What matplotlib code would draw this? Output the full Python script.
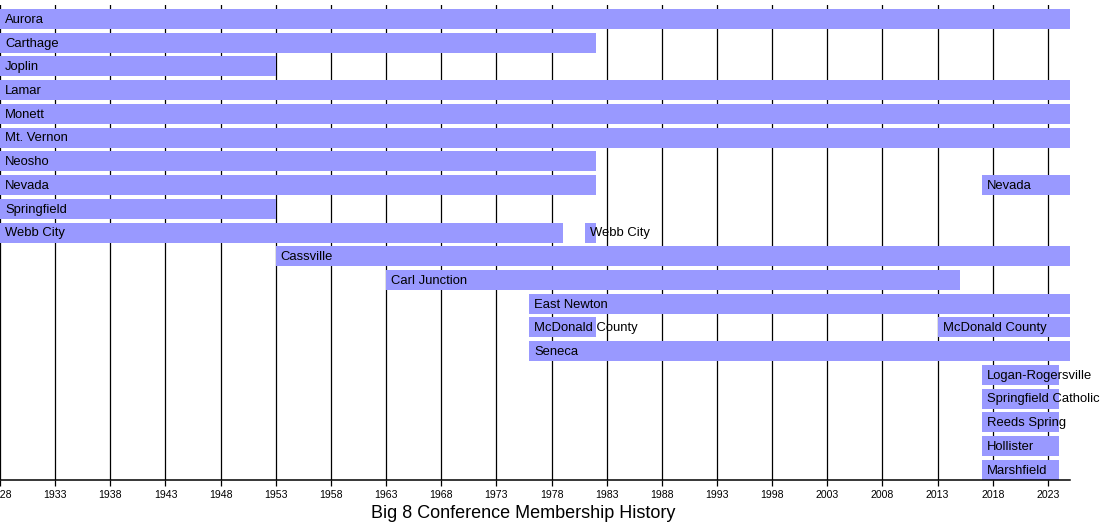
import matplotlib.pyplot as plt

plt.rcParams['font.family'] = ['Liberation Sans', 'DejaVu Sans']

schools = ["Aurora", "Carthage", "Joplin", "Lamar", "Monett", "Mt. Vernon",
           "Neosho", "Nevada", "Springfield", "Webb City", "Cassville",
           "Carl Junction", "East Newton", "McDonald County", "Seneca",
           "Logan-Rogersville", "Springfield Catholic", "Reeds Spring",
           "Hollister", "Marshfield"]

# membership periods (start year, end year) for each school
periods = [
    [(1928, 2025)],
    [(1928, 1982)],
    [(1928, 1953)],
    [(1928, 2025)],
    [(1928, 2025)],
    [(1928, 2025)],
    [(1928, 1982)],
    [(1928, 1982), (2017, 2025)],
    [(1928, 1953)],
    [(1928, 1979), (1981, 1982)],
    [(1953, 2025)],
    [(1963, 2015)],
    [(1976, 2025)],
    [(1976, 1982), (2013, 2025)],
    [(1976, 2025)],
    [(2017, 2024)],
    [(2017, 2024)],
    [(2017, 2024)],
    [(2017, 2024)],
    [(2017, 2024)],
]

year_start, year_end = 1928, 2025
tick_years = list(range(1928, 2024, 5))
bar_color = "#9999ff"

fig = plt.figure(figsize=(11, 5.3), dpi=100)
ax = fig.add_axes([0.0, 0.0943, 0.9727, 0.8963])

for yr in tick_years:
    ax.axvline(yr, color="black", lw=0.9, zorder=1)

for row, (name, spans) in enumerate(zip(schools, periods)):
    for start, end in spans:
        ax.barh(row, end - start, left=start, height=0.84, color=bar_color,
                edgecolor="none", zorder=2)
        ax.annotate(name, xy=(start, row), xytext=(3.6, -0.6), textcoords="offset points",
                    ha="left", va="center", fontsize=9.4, color="black", zorder=3)

ax.set_xlim(year_start, year_end)
ax.set_ylim(19.43, -0.59)
ax.set_yticks([])
ax.set_xticks(tick_years)
ax.set_xticklabels([str(y) for y in tick_years], fontsize=7.6)
ax.tick_params(axis="x", direction="out", length=4.3, width=0.9, pad=3)
for side in ["top", "left", "right"]:
    ax.spines[side].set_visible(False)
ax.spines["bottom"].set_linewidth(1.1)

fig.text(0.476, 0.032, "Big 8 Conference Membership History", ha="center",
         va="center", fontsize=13)

fig.savefig("out.png", dpi=100)
